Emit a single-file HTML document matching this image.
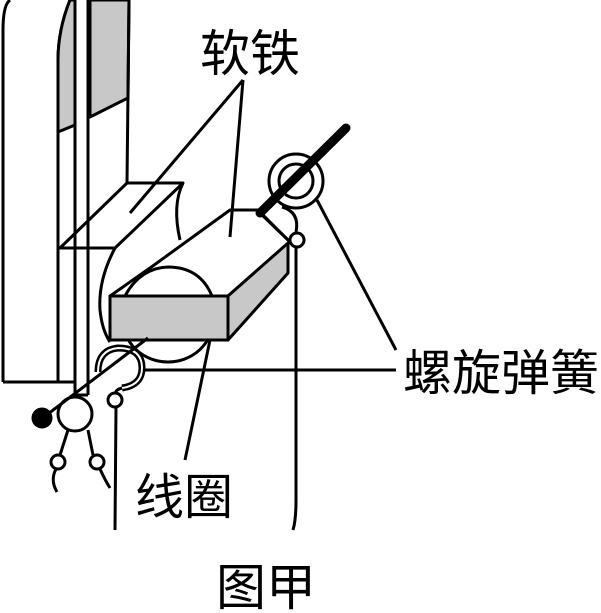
<!DOCTYPE html>
<html><head><meta charset="utf-8"><style>
html,body{margin:0;padding:0;background:#fff;}
svg{display:block}
text{font-family:"Liberation Sans","Noto Sans CJK SC",sans-serif;fill:#000}
</style></head><body>
<svg width="601" height="613" viewBox="0 0 601 613" xmlns="http://www.w3.org/2000/svg" fill="none" stroke="#000" stroke-width="3" stroke-linejoin="round">
<!-- left frame -->
<path d="M3,382 L3,30 Q3,5 10,0"/>
<path d="M3,382 L75,382"/>
<path d="M70,0 Q58,30 58,60 L58,382" />
<path d="M70,0 Q58,30 58,60 L58,132 L75,125 L75,0 Z" fill="#c8c8c8"/>
<line x1="75" y1="0" x2="75" y2="395"/>
<line x1="88" y1="0" x2="88" y2="395"/>
<line x1="75" y1="395" x2="88" y2="395"/>
<path d="M90,0 L90,117 L128,98 L129,0 Z" fill="#c8c8c8"/>
<path d="M129,0 L127,183"/>
<!-- upper soft iron block -->
<path d="M127,183 L183,183 Q172,205 180,240"/>
<path d="M127,183 L60,248 L115,248 L183,183"/>
<path d="M115,248 Q98,280 100,310 Q102,330 110,342"/>
<!-- coil ellipse -->
<ellipse cx="168" cy="320" rx="45" ry="42"/>
<!-- main block top face -->
<path d="M110,296 L150,268 L230,210 L258,210 L290,242 L228,296 Z" fill="#fff"/>
<path d="M125,296 Q140,268 168,267 Q200,267 212,296" fill="#fff"/>
<rect x="110" y="296" width="118" height="44" fill="#c8c8c8"/>
<path d="M228,296 L288,243 L288,273 L228,340 Z" fill="#c8c8c8"/>
<!-- top spring -->
<circle cx="296" cy="181" r="27"/>
<circle cx="296" cy="181" r="17"/>
<path d="M260,213 L288,240"/>
<path d="M282,207 Q300,212 296,232"/>
<circle cx="297" cy="240" r="7" fill="#fff"/>
<line x1="296" y1="247" x2="296" y2="500"/>
<path d="M296,500 Q296,520 293,530"/>
<line x1="260" y1="213" x2="346" y2="128" stroke-width="9" stroke-linecap="round"/>
<!-- bottom -->
<path d="M98,372 Q98,350 118,348 Q142,348 142,368 Q142,385 122,388" stroke-width="7"/>
<path d="M98,372 Q98,350 118,348 Q142,348 142,368 Q142,385 122,388" stroke="#fff" stroke-width="2"/>
<line x1="40" y1="420" x2="148" y2="338"/>
<circle cx="42" cy="418" r="9" fill="#000"/>
<circle cx="75" cy="414" r="17"/>
<path d="M68,430 L60,455"/>
<circle cx="58" cy="462" r="7" fill="#fff"/>
<path d="M56,469 Q50,480 57,492"/>
<path d="M88,430 L93,455"/>
<circle cx="97" cy="462" r="7" fill="#fff"/>
<path d="M100,469 Q105,480 110,488"/>
<path d="M122,388 Q115,390 116,393"/>
<circle cx="115" cy="400" r="7" fill="#fff"/>
<line x1="116" y1="407" x2="115" y2="530"/>
<!-- leaders -->
<line x1="243" y1="80" x2="130" y2="213"/>
<line x1="243" y1="80" x2="230" y2="237"/>
<line x1="317" y1="200" x2="396" y2="350"/>
<line x1="145" y1="370" x2="396" y2="370"/>
<line x1="185" y1="460" x2="210" y2="340"/>
<g stroke="none">
<text x="200" y="71" font-size="50">软铁</text>
<text x="403" y="390" font-size="49">螺旋弹簧</text>
<text x="135" y="514" font-size="49">线圈</text>
<text x="216" y="605" font-size="50">图甲</text>
</g>
</svg>
</body></html>
